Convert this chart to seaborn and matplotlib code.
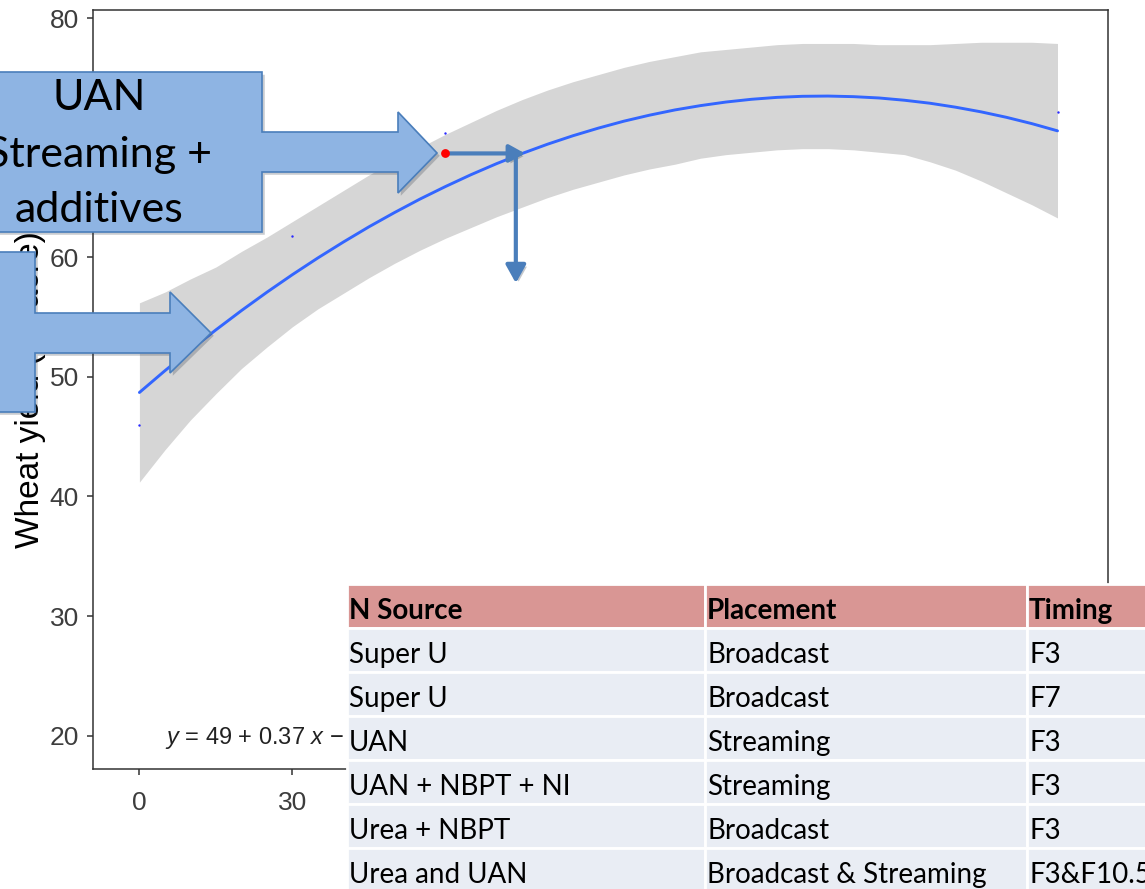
import matplotlib
matplotlib.use("Agg")
import matplotlib.pyplot as plt
import matplotlib.patheffects as pe
from matplotlib.patches import Polygon, Rectangle
import seaborn as sns

# fitted quadratic and its grey confidence band, every 5 units of N
fit_x = list(range(0, 181, 5))
fit_y = [48.70, 50.52, 52.26, 53.94, 55.55, 57.09, 58.56, 59.96, 61.29, 62.56, 63.75, 64.88,
         65.93, 66.92, 67.84, 68.69, 69.47, 70.18, 70.82, 71.40, 71.90, 72.34, 72.70, 73.00,
         73.23, 73.39, 73.48, 73.50, 73.45, 73.34, 73.15, 72.90, 72.57, 72.18, 71.72, 71.19, 70.59]
ci_high = [56.2, 57.1, 58.2, 59.2, 60.5, 61.7, 63.0, 64.3, 65.6, 66.9, 68.1, 69.2,
           70.3, 71.3, 72.3, 73.2, 74.0, 74.7, 75.3, 75.9, 76.4, 76.8, 77.2, 77.4,
           77.6, 77.8, 77.9, 77.9, 77.9, 77.8, 77.8, 77.8, 77.9, 78.0, 78.0, 78.0, 77.9]
ci_low = [41.2, 43.9, 46.4, 48.6, 50.7, 52.5, 54.2, 55.7, 57.0, 58.3, 59.5, 60.6,
          61.6, 62.5, 63.4, 64.2, 65.0, 65.7, 66.3, 66.9, 67.4, 67.8, 68.3, 68.6,
          68.8, 69.0, 69.1, 69.1, 69.0, 68.8, 68.6, 68.0, 67.3, 66.4, 65.4, 64.4, 63.3]

# observed means (tiny blue dots) and the highlighted treatment (red dot)
obs_x = [0, 30, 60, 180]
obs_y = [46.0, 61.8, 70.4, 72.2]
hl_x = [60]
hl_y = [68.7]

equation = r"$y$ = 49 + 0.37 $x$ $-$ 0.0014 $x^2$"

callout_lines = ["UAN", "Streaming +", "additives"]

headers = ["N Source", "Placement", "Timing"]
n_source = ["Super U", "Super U", "UAN", "UAN + NBPT + NI", "Urea + NBPT", "Urea and UAN"]
placement = ["Broadcast", "Broadcast", "Streaming", "Streaming", "Broadcast", "Broadcast & Streaming"]
timing = ["F3", "F7", "F3", "F3", "F3", "F3&F10.5"]

sns.set_theme(style="white")
plt.rcParams['font.family'] = ['Liberation Sans', 'DejaVu Sans']
plt.rcParams['mathtext.fontset'] = 'custom'
plt.rcParams['mathtext.rm'] = 'Liberation Sans'
plt.rcParams['mathtext.it'] = 'Liberation Sans:italic'

W, H = 1145, 889
fig = plt.figure(figsize=(W / 100, H / 100), dpi=100)
fig.patch.set_facecolor('white')
ax = fig.add_axes([93 / W, 1 - 769 / H, (1108 - 93) / W, (769 - 10) / H])

ax.fill_between(fit_x, ci_low, ci_high, color='#999999', alpha=0.4, lw=0)
sns.lineplot(x=fit_x, y=fit_y, ax=ax, color='#3366FF', lw=2.1)
sns.scatterplot(x=obs_x, y=obs_y, ax=ax, color='#2a2aff', s=3, linewidth=0, zorder=4)

# T-shaped pointer from the red point to the curve and down
shadow = [pe.SimplePatchShadow(offset=(2, -2), alpha=0.25), pe.Normal()]
a1 = ax.annotate("", xy=(75.6, hl_y[0]), xytext=(hl_x[0], hl_y[0]),
                 arrowprops=dict(arrowstyle="-|>,head_length=0.47,head_width=0.26",
                                 color="#4A7EBB", lw=3, shrinkA=0, shrinkB=0, mutation_scale=20))
a2 = ax.annotate("", xy=(73.8, 57.85), xytext=(73.8, hl_y[0]),
                 arrowprops=dict(arrowstyle="-|>,head_length=0.54,head_width=0.3",
                                 color="#4A7EBB", lw=3, shrinkA=0, shrinkB=0, mutation_scale=20))
for a in (a1, a2):
    a.arrow_patch.set_path_effects(shadow)
sns.scatterplot(x=hl_x, y=hl_y, ax=ax, color='red', s=40, linewidth=0, zorder=6)

ax.text(5.0, 19.9, equation, fontsize=17, ha='left', va='center', color='#222222')

ax.set_xlim(-9.1, 189.9)
ax.set_ylim(17.2, 80.7)
ax.set_xticks(range(0, 181, 30))
ax.set_yticks(range(20, 81, 10))
for s in ax.spines.values():
    s.set_visible(True)
    s.set_color('#333333')
    s.set_linewidth(1.1)
ax.tick_params(bottom=True, left=True, direction='out', length=4.5, width=1.1,
               color='#333333', labelsize=19, labelcolor='#3d3d3d')
ax.tick_params(axis='x', pad=11)
ax.tick_params(axis='y', pad=5.5)
ax.set_xlabel("")
ax.set_ylabel("Wheat yield (bu/acre)", fontsize=24, color='black', va='center')
ax.yaxis.set_label_coords(-0.0616, 0.5)

# overlay in pixel coordinates for the slide callouts and the table
ov = fig.add_axes([0, 0, 1, 1], zorder=5)
ov.set_xlim(0, W)
ov.set_ylim(H, 0)
ov.axis('off')

box1 = [(-80, 72), (262, 72), (262, 132), (398, 132), (398, 112), (437, 153), (398, 193),
        (398, 172), (262, 172), (262, 232), (-80, 232)]
box2 = [(-80, 252), (35, 252), (35, 313), (170, 313), (170, 292), (211, 333), (170, 373),
        (170, 353), (35, 353), (35, 412), (-80, 412)]
for pts in (box1, box2):
    p = Polygon(pts, closed=True, facecolor='#8EB4E3', edgecolor='#4A7EBB', lw=1.2)
    p.set_path_effects(shadow)
    ov.add_patch(p)

for line, base in zip(callout_lines, [110, 167, 222]):
    ov.text(99, base, line, ha='center', va='baseline', fontsize=31, family='Lato', color='black')

col_edges = [347, 705, 1027, 1220]
row_top, row_h = 584, 44
rows = [headers] + [list(r) for r in zip(n_source, placement, timing)]
for i, row in enumerate(rows):
    top = row_top + row_h * i
    fill = '#D99694' if i == 0 else '#E9EDF4'
    for j, txt in enumerate(row):
        ov.add_patch(Rectangle((col_edges[j], top), col_edges[j + 1] - col_edges[j], row_h,
                               facecolor=fill, edgecolor='white', lw=2))
        ov.text(col_edges[j] + 2, top + 35, txt, ha='left', va='baseline', fontsize=20,
                family='Lato', weight='bold' if i == 0 else 'normal', color='black')

fig.savefig("out.png", dpi=100)
